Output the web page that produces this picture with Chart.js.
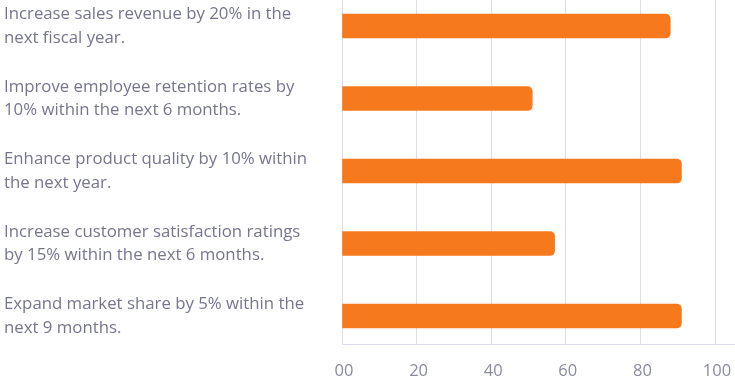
<!DOCTYPE html>
<html>
<head>
<meta charset="utf-8">
<script src="https://cdn.jsdelivr.net/npm/chart.js@4/dist/chart.umd.min.js"></script>
<style>
html,body{margin:0;padding:0;background:#fff;}
#wrap{position:absolute;left:0;top:0;width:735px;height:382px;}
</style>
</head>
<body>
<div id="wrap"><canvas id="c"></canvas></div>
<script>
const categories = [
  ["Increase sales revenue by 20% in the", "next fiscal year."],
  ["Improve employee retention rates by", "10% within the next 6 months."],
  ["Enhance product quality by 10% within", "the next year."],
  ["Increase customer satisfaction ratings", "by 15% within the next 6 months."],
  ["Expand market share by 5% within the", "next 9 months."]
];
const values = [88, 51, 91, 57, 91];
const xTickValues = [0, 20, 40, 60, 80, 100];
const xTickLabels = ["00", "20", "40", "60", "80", "100"];

const points = values.map((v, i) => ({x: v, y: i}));
const FONT = "'Open Sans', 'Noto Sans', sans-serif";

new Chart(document.getElementById('c'), {
  type: 'bar',
  data: {
    datasets: [{
      data: points,
      backgroundColor: '#F7791E',
      borderRadius: 5,
      borderSkipped: 'start',
      barThickness: 24
    }]
  },
  options: {
    indexAxis: 'y',
    responsive: true,
    maintainAspectRatio: false,
    animation: false,
    layout: {padding: {left: 4, top: 0, right: 0, bottom: 0}},
    plugins: {legend: {display: false}, tooltip: {enabled: false}},
    scales: {
      y: {
        type: 'linear',
        reverse: true,
        offset: false,
        min: -0.359,
        max: 4.386,
        afterBuildTicks: (axis) => { axis.ticks = categories.map((c, i) => ({value: i})); },
        afterFit: (axis) => { axis.width = 338; axis.paddingTop = 0; axis.paddingBottom = 0; },
        grid: {display: false, offset: false},
        border: {display: false},
        ticks: {
          crossAlign: 'far',
          padding: 8,
          color: '#76758f',
          font: {family: FONT, size: 16.8, lineHeight: 1.4},
          callback: (v) => categories[v]
        }
      },
      x: {
        type: 'linear',
        min: 0,
        max: 105.36,
        afterBuildTicks: (axis) => { axis.ticks = xTickValues.map(v => ({value: v})); },
        afterFit: (axis) => { axis.height = 38; axis.paddingLeft = 0; axis.paddingRight = 0; },
        grid: {color: '#dddcee', lineWidth: 1, drawTicks: false},
        border: {color: '#dddcee', width: 1},
        ticks: {
          padding: 17,
          labelOffset: 2,
          color: '#8a8aa0',
          font: {family: FONT, size: 16.5},
          callback: (v) => xTickLabels[xTickValues.indexOf(v)]
        }
      }
    }
  }
});
</script>
</body>
</html>
